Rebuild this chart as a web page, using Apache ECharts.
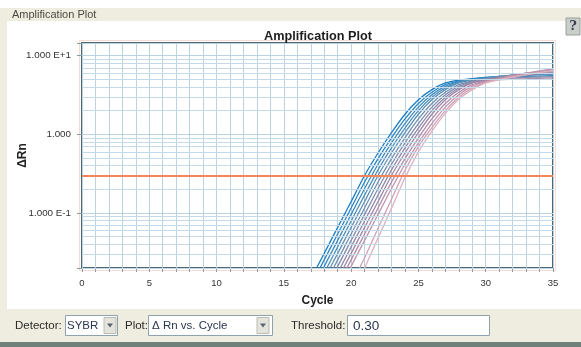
<!DOCTYPE html>
<html>
<head>
<meta charset="utf-8">
<script src="https://cdn.jsdelivr.net/npm/echarts@6/dist/echarts.min.js"></script>
<style>
  html, body { margin: 0; padding: 0; background: #ffffff; }
  #chart { width: 581px; height: 347px; }
</style>
</head>
<body>
<div id="chart"></div>
<script>
// cycles shown (earlier cycles sit below the axis minimum)
var cycles = [16, 17, 18, 19, 20, 21, 22, 23, 24, 25, 26, 27, 28, 29, 30, 31, 32, 33, 34, 35];

// delta Rn per well, one value per cycle above
var well01 = [0.0067, 0.0144, 0.0307, 0.0656, 0.140, 0.300, 0.579, 1.05, 1.80, 2.75, 3.70, 4.50, 4.90, 5.11, 5.30, 5.45, 5.60, 5.70, 5.80, 5.90];
var well02 = [0.0055, 0.0119, 0.0254, 0.0542, 0.116, 0.248, 0.491, 0.905, 1.57, 2.47, 3.43, 4.28, 4.80, 5.05, 5.25, 5.40, 5.60, 5.75, 5.90, 6.00];
var well03 = [0.0046, 0.0098, 0.021, 0.0449, 0.096, 0.205, 0.417, 0.780, 1.37, 2.22, 3.19, 4.08, 4.69, 5.00, 5.15, 5.30, 5.40, 5.45, 5.50, 5.60];
var well04 = [0.0038, 0.0081, 0.0173, 0.0371, 0.0793, 0.169, 0.353, 0.672, 1.20, 2.00, 2.96, 3.88, 4.59, 4.95, 5.20, 5.45, 5.65, 5.85, 6.05, 6.20];
var well05 = [0.0031, 0.0067, 0.0144, 0.0307, 0.0656, 0.140, 0.300, 0.579, 1.05, 1.80, 2.75, 3.70, 4.50, 4.90, 5.11, 5.30, 5.45, 5.60, 5.70, 5.80];
var well06 = [0.0026, 0.0055, 0.0119, 0.0254, 0.0542, 0.116, 0.248, 0.491, 0.905, 1.57, 2.47, 3.43, 4.28, 4.80, 5.10, 5.40, 5.70, 5.95, 6.20, 6.40];
var well07 = [0.0021, 0.0046, 0.0098, 0.021, 0.0449, 0.096, 0.205, 0.417, 0.780, 1.37, 2.22, 3.19, 4.08, 4.69, 4.95, 5.10, 5.20, 5.30, 5.35, 5.40];
var well08 = [0.0018, 0.0038, 0.0081, 0.0173, 0.0371, 0.0793, 0.169, 0.353, 0.672, 1.20, 2.00, 2.96, 3.88, 4.59, 4.95, 5.30, 5.65, 6.00, 6.30, 6.60];
var well09 = [0.0014, 0.0031, 0.0067, 0.0144, 0.0307, 0.0656, 0.140, 0.300, 0.579, 1.05, 1.80, 2.75, 3.70, 4.50, 4.90, 5.20, 5.45, 5.70, 5.90, 6.10];
var well10 = [0.0012, 0.0026, 0.0055, 0.0119, 0.0254, 0.0542, 0.116, 0.248, 0.491, 0.905, 1.57, 2.47, 3.43, 4.28, 4.75, 4.95, 5.05, 5.10, 5.15, 5.20];
var well11 = [0.0010, 0.0021, 0.0046, 0.0098, 0.021, 0.0449, 0.096, 0.205, 0.417, 0.780, 1.37, 2.22, 3.19, 4.08, 4.69, 5.10, 5.60, 6.00, 6.40, 6.80];
var well12 = [0.0005, 0.0010, 0.0022, 0.0050, 0.012, 0.027, 0.064, 0.150, 0.350, 0.700, 1.22, 2.00, 2.96, 3.88, 4.59, 5.00, 5.40, 5.75, 6.05, 6.30];
var well13 = [0.0004, 0.0008, 0.0015, 0.0035, 0.0083, 0.020, 0.048, 0.115, 0.280, 0.600, 1.10, 1.85, 2.80, 3.70, 4.50, 4.95, 5.35, 5.75, 6.15, 6.50];

var wells = [well01, well02, well03, well04, well05, well06, well07, well08, well09, well10, well11, well12, well13];
var wellColors = ['#1c7fc6', '#2a86c4', '#3b8bc0', '#4d8fbb', '#5f91b6', '#7090b2', '#808cae',
                  '#8f88aa', '#9e86a7', '#b08aa8', '#c093ad', '#d0a0b4', '#ddb0bd'];

var threshold = 0.30;

// axis ticks and labels
var yTickValues = [0.1, 1, 10];
var yTickLabels = ['1.000 E-1', '1.000', '1.000 E+1'];
var yMinorLines = [0.02, 0.03, 0.04, 0.05, 0.06, 0.07, 0.08, 0.09,
                   0.2, 0.3, 0.4, 0.5, 0.6, 0.7, 0.8, 0.9,
                   2, 3, 4, 5, 6, 7, 8, 9];
var xLabelStep = 5;

var FONT = 'Liberation Sans, Arial, sans-serif';

var myChart = echarts.init(document.getElementById('chart'));

var series = wells.map(function (vals, i) {
    return {
        type: 'line',
        name: 'Well ' + (i + 1),
        data: cycles.map(function (c, j) { return [c, vals[j]]; }),
        showSymbol: false,
        smooth: 0.2,
        z: 3,
        lineStyle: { width: 1.3, color: wellColors[i] },
        itemStyle: { color: wellColors[i] }
    };
});

// minor log grid lines
series.push({
    type: 'line',
    name: 'grid',
    data: [],
    z: 1,
    silent: true,
    markLine: {
        silent: true,
        symbol: ['none', 'none'],
        label: { show: false },
        animation: false,
        lineStyle: { color: '#c4dae9', width: 1, type: 'solid' },
        data: yMinorLines.map(function (v) { return { yAxis: v }; })
    }
});

// threshold
series.push({
    type: 'line',
    name: 'threshold',
    data: [],
    z: 5,
    silent: true,
    markLine: {
        silent: true,
        symbol: ['none', 'none'],
        label: { show: false },
        animation: false,
        lineStyle: { color: '#f3845c', width: 2, type: 'solid' },
        data: [{ yAxis: threshold }]
    }
});

function rect(x, y, w, h, fill, stroke) {
    return {
        type: 'rect', silent: true, z: 0,
        shape: { x: x, y: y, width: w, height: h },
        style: { fill: fill, stroke: stroke || null, lineWidth: 1 }
    };
}
function label(x, y, txt, size, opts) {
    opts = opts || {};
    return {
        type: 'text', silent: true, z: 10, x: x, y: y,
        style: {
            text: txt, fontSize: size, fontFamily: opts.family || FONT,
            fontWeight: opts.weight || 'normal', fill: opts.color || '#2a2a2a',
            align: opts.align || 'left', verticalAlign: 'middle'
        }
    };
}
function arrowButton(x, y) {
    return [
        rect(x, y, 12, 16, '#e4e4dc', '#b9bdb5'),
        {
            type: 'polygon', silent: true, z: 11,
            shape: { points: [[x + 3, y + 6], [x + 9, y + 6], [x + 6, y + 10]] },
            style: { fill: '#5a6470' }
        }
    ];
}

option = {
    animation: false,
    backgroundColor: '#ffffff',
    grid: {
        left: 82, top: 43, width: 471, height: 225,
        containLabel: false,
        outerBoundsMode: 'none',
        show: true, backgroundColor: '#ffffff',
        borderColor: '#4d676e', borderWidth: 2
    },
    xAxis: {
        type: 'value',
        min: 0, max: 35, interval: 1,
        name: 'Cycle',
        nameLocation: 'middle',
        nameGap: 27,
        nameMoveOverlap: false,
        nameTextStyle: { fontFamily: FONT, fontWeight: 'bold', fontSize: 12, color: '#222' },
        axisLine: { show: false },
        axisTick: { show: true, length: 4, lineStyle: { color: '#8a9aa0' } },
        axisLabel: {
            fontFamily: FONT, fontSize: 9.5, color: '#333', margin: 10,
            formatter: function (v) { return v % xLabelStep === 0 ? String(v) : ''; }
        },
        splitLine: { show: true, lineStyle: { color: '#bad3e4', width: 1 } }
    },
    yAxis: {
        type: 'log',
        logBase: 10,
        min: 0.02, max: 14.5,
        name: 'ΔRn',
        nameLocation: 'middle',
        nameRotate: 90,
        nameGap: 53,
        nameMoveOverlap: false,
        nameTextStyle: { fontFamily: FONT, fontWeight: 'bold', fontSize: 12, color: '#222' },
        axisLine: { show: false },
        axisTick: { show: true, length: 5, lineStyle: { color: '#8a9aa0' } },
        axisLabel: {
            fontFamily: FONT, fontSize: 9.8, color: '#333', margin: 11,
            formatter: function (v) {
                for (var k = 0; k < yTickValues.length; k++) {
                    if (Math.abs(Math.log10(v) - Math.log10(yTickValues[k])) < 1e-6) return yTickLabels[k];
                }
                return '';
            }
        },
        splitLine: { show: true, lineStyle: { color: '#bad3e4', width: 1 } }
    },
    graphic: [].concat(
        [
            // window chrome
            rect(0, 8, 581, 13, '#eeeddf'),
            rect(0, 8, 7, 334, '#eeeddf'),
            rect(0, 309, 581, 33, '#eeeddf'),
            rect(0, 342, 581, 5, '#6f7f79'),
            label(12, 15, 'Amplification Plot', 11, { color: '#4a4a44' }),
            rect(566, 18, 14, 17, '#c9cec9', '#9aa09c'),
            label(573, 27, '?', 13, { weight: 'bold', family: 'DejaVu Serif, serif', align: 'center', color: '#3a4150' }),
            // faint outline around the plot frame
            rect(79.5, 40.5, 476, 230, null, '#f6dcd4'),
            // chart title
            label(318, 36, 'Amplification Plot', 12.7, { weight: 'bold', align: 'center', color: '#1e1e1e' }),
            // controls
            label(15, 326, 'Detector:', 11.5),
            rect(65.5, 315.5, 52, 20, '#ffffff', '#8fa2b0'),
            label(67, 326, 'SYBR', 11.5, { color: '#2a3550' }),
            label(125, 326, 'Plot:', 11.5),
            rect(148.5, 315.5, 124, 20, '#ffffff', '#8fa2b0'),
            label(152, 326, 'Δ Rn vs. Cycle', 11.5, { color: '#2a3550' }),
            label(291, 326, 'Threshold:', 11.5),
            rect(347.5, 315.5, 142, 20, '#ffffff', '#8fa2b0'),
            label(353, 326, String(threshold.toFixed(2)), 13.5, { color: '#2a3550' })
        ],
        arrowButton(104, 317.5),
        arrowButton(257, 317.5)
    ),
    series: series
};

option && myChart.setOption(option);
</script>
</body>
</html>
